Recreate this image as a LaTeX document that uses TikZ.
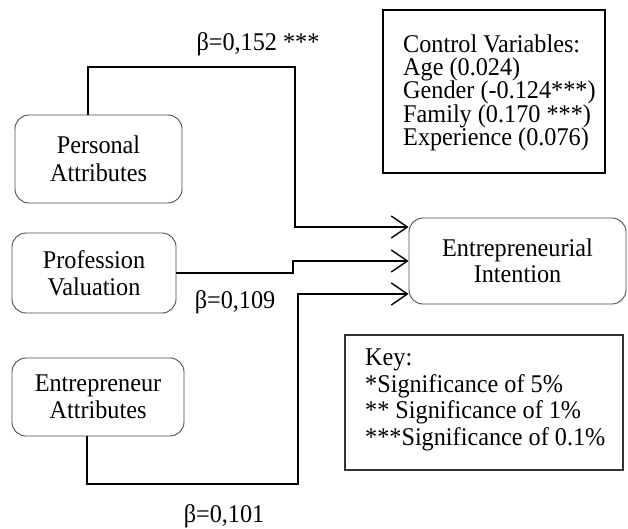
\documentclass[tikz,border=0pt]{standalone}
\usepackage{fontspec}
\setmainfont{Liberation Serif}
\newfontfamily\tallfont[FakeStretch=0.95]{Liberation Serif}
\usetikzlibrary{arrows.meta}
\tikzset{
  rbox/.style={draw=black!70, line width=0.9pt, rounded corners=14pt, align=center, inner sep=0pt,
    font=\tallfont\fontsize{25.5}{27.5}\selectfont},
  sqbox/.style={draw=black, line width=1.4pt, inner sep=0pt},
  lbl/.style={font=\tallfont\fontsize{25.5}{28}\selectfont, inner sep=0pt, anchor=base},
  conn/.style={line width=1.4pt, -{Straight Barb[length=16pt,width=22pt,line width=1.4pt]}},
}
\begin{document}
\begin{tikzpicture}[x=1pt,y=-1pt]
\useasboundingbox (0,0) rectangle (628,529);
% boxes
\node[rbox, minimum width=167pt, minimum height=88pt] (pa) at (98.5,159) {Personal\\Attributes};
\node[rbox, minimum width=164pt, minimum height=80pt] (pv) at (94,273) {Profession\\Valuation};
\node[rbox, minimum width=172pt, minimum height=78pt] (ea) at (98,397) {Entrepreneur\\Attributes};
\node[rbox, minimum width=217pt, minimum height=86pt, font=\tallfont\fontsize{25.5}{26.5}\selectfont] (ei) at (517.5,261) {Entrepreneurial\\Intention};
\node[sqbox, minimum width=222pt, minimum height=163pt] (cv) at (494,91.5) {};
\node[sqbox, draw=black!80, minimum width=278pt, minimum height=135pt] (key) at (484,402.5) {};
% box texts
\node[anchor=north west, inner sep=0pt, align=left, font=\tallfont\fontsize{25.5}{23.2}\selectfont] (cvt) at (403,34.6)
  {Control Variables:\\Age (0.024)\\Gender (-0.124***)\\Family (0.170 ***)\\Experience (0.076)};
\node[anchor=north west, inner sep=0pt, align=left, font=\tallfont\fontsize{25.5}{26.5}\selectfont] (kt) at (365,349)
  {Key:\\*Significance of 5\%\\** Significance of 1\%\\***Significance of 0.1\%};
% connectors
\draw[conn] (pa.north -| 88,0) -- (88,67) -- (295,67) -- (295,227) -- (ei.west |- 0,227);
\draw[conn] (pv.east |- 0,273) -- (293,273) -- (293,261) -- (ei.west |- 0,261);
\draw[conn] (ea.south -| 87,0) -- (87,484) -- (298,484) -- (298,294) -- (ei.west |- 0,294);
% labels
\node[lbl] (l1) at (258,51) {β=0,152 ***};
\node[lbl] (l2) at (235,308) {β=0,109};
\node[lbl] (l3) at (224,522.5) {β=0,101};
\end{tikzpicture}
\end{document}
